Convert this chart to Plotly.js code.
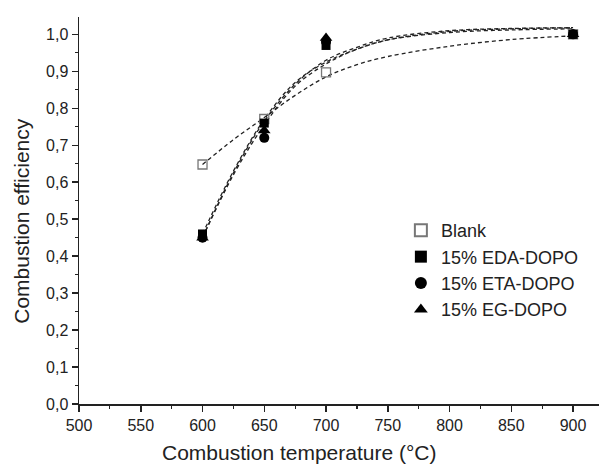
<!DOCTYPE html>
<html>
<head>
<meta charset="utf-8">
<script src="https://cdn.plot.ly/plotly-3.0.1.min.js"></script>
<style>html,body{margin:0;padding:0;background:#fff;}#chart{width:599px;height:466px;}</style>
</head>
<body>
<div id="chart"></div>
<script>
// Measured points
const temps = [600, 650, 700, 900];
const blank = [0.648, 0.771, 0.897, 1.00];
const eda = [0.46, 0.76, 0.97, 1.00];
const eta = [0.45, 0.72, 0.98, 1.00];
const eg = [0.45, 0.74, 0.99, 1.00];

// Fitted curves
const fitT = [600, 625, 650, 675, 700, 725, 750, 800, 850, 900];
const fitBlank = [0.648, 0.715, 0.775, 0.835, 0.885, 0.918, 0.940, 0.968, 0.986, 0.996];
const fitEda = [0.46, 0.63, 0.77, 0.87, 0.925, 0.960, 0.985, 1.005, 1.012, 1.015];
const fitEta = [0.45, 0.62, 0.755, 0.86, 0.92, 0.960, 0.985, 1.008, 1.015, 1.018];
const fitEg = [0.45, 0.625, 0.765, 0.865, 0.93, 0.965, 0.990, 1.010, 1.016, 1.018];

const names = ['Blank', '15% EDA-DOPO', '15% ETA-DOPO', '15% EG-DOPO'];

const dash = {color: '#222', width: 1.3, dash: '4px,3px', shape: 'spline', smoothing: 1};
function fit(y) {
  return {x: fitT, y: y, mode: 'lines', line: dash, showlegend: false, hoverinfo: 'skip'};
}

const traces = [
  fit(fitBlank), fit(fitEda), fit(fitEta), fit(fitEg),
  {x: temps, y: blank, mode: 'markers', name: names[0],
   marker: {symbol: 'square-open', size: 9, color: '#777', line: {width: 1.3, color: '#777'}}},
  {x: temps, y: eda, mode: 'markers', name: names[1],
   marker: {symbol: 'square', size: 9, color: '#000'}},
  {x: temps, y: eta, mode: 'markers', name: names[2],
   marker: {symbol: 'circle', size: 10, color: '#000'}},
  {x: temps, y: eg, mode: 'markers', name: names[3],
   marker: {symbol: 'triangle-up', size: 11, color: '#000'}}
];

const font = {family: 'Arial, "Liberation Sans", sans-serif', color: '#222'};

const layout = {
  width: 599, height: 466,
  margin: {l: 79.3, r: 0, t: 17, b: 62},
  paper_bgcolor: '#fff', plot_bgcolor: '#fff',
  separators: ',.',
  font: Object.assign({size: 16}, font),
  showlegend: true,
  legend: {x: 0.619, y: 0.496, xanchor: 'left', yanchor: 'top',
           font: Object.assign({size: 18}, font), bgcolor: 'rgba(0,0,0,0)',
           tracegroupgap: 0, itemsizing: 'constant'},
  xaxis: {
    range: [500, 921], showgrid: false, zeroline: false,
    showline: true, linecolor: '#222', linewidth: 1.5,
    ticks: 'outside', ticklen: 6, tickwidth: 1.5, tickcolor: '#222',
    tick0: 500, dtick: 50,
    minor: {ticks: 'outside', ticklen: 3, tickwidth: 1.2, tickcolor: '#222', dtick: 25, showgrid: false},
    tickfont: Object.assign({size: 16}, font)
  },
  yaxis: {
    range: [0, 1.047], showgrid: false, zeroline: false,
    showline: true, linecolor: '#222', linewidth: 1.5,
    ticks: 'outside', ticklen: 6, tickwidth: 1.5, tickcolor: '#222',
    tick0: 0, dtick: 0.1, tickformat: '.1f',
    minor: {ticks: 'outside', ticklen: 3, tickwidth: 1.2, tickcolor: '#222', dtick: 0.05, showgrid: false},
    tickfont: Object.assign({size: 16}, font)
  },
  annotations: [
    {text: 'Combustion temperature (°C)', xref: 'paper', yref: 'paper',
     x: 0.4247, y: -0.1266, xanchor: 'center', yanchor: 'middle', showarrow: false,
     font: Object.assign({size: 21}, font)},
    {text: 'Combustion efficiency', xref: 'paper', yref: 'paper', textangle: -90,
     x: -0.110, y: 0.473, xanchor: 'center', yanchor: 'middle', showarrow: false,
     font: Object.assign({size: 21}, font)}
  ]
};

Plotly.newPlot('chart', traces, layout, {displayModeBar: false, staticPlot: true});
</script>
</body>
</html>
